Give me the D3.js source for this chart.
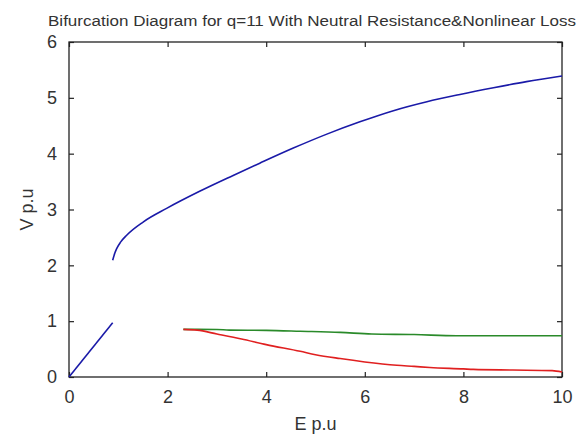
<!DOCTYPE html>
<html><head><meta charset="utf-8">
<script src="https://cdn.jsdelivr.net/npm/d3@7"></script>
<style>body{margin:0;background:#fff}svg{display:block}</style>
</head><body>
<script>
// Data
const upperE = [0.886, 0.93, 0.967, 1.05, 1.17, 1.51, 1.98, 2.66, 3.33, 3.87, 4.55, 5.23, 5.90, 6.58, 7.26, 7.93, 8.61, 9.28, 10.0];
const upperV = [2.09, 2.22, 2.30, 2.42, 2.54, 2.78, 3.02, 3.33, 3.61, 3.83, 4.10, 4.35, 4.57, 4.77, 4.93, 5.06, 5.18, 5.29, 5.39];
const lowerE = [0, 0.886];
const lowerV = [0, 0.97];
const greenE = [2.32, 3.0, 3.25, 4.0, 4.69, 5.5, 6.14, 7.0, 7.86, 9.0, 10.0];
const greenV = [0.853, 0.85, 0.84, 0.835, 0.82, 0.8, 0.77, 0.76, 0.74, 0.74, 0.74];
const redE = [2.32, 2.6, 3.0, 3.5, 4.0, 4.69, 5.0, 5.5, 6.0, 6.65, 7.0, 7.32, 8.0, 8.2, 9.0, 9.8, 10.0];
const redV = [0.853, 0.84, 0.77, 0.68, 0.58, 0.46, 0.4, 0.33, 0.27, 0.21, 0.19, 0.17, 0.145, 0.136, 0.125, 0.115, 0.09];
const xTicks = [0, 2, 4, 6, 8, 10];
const yTicks = [0, 1, 2, 3, 4, 5, 6];
const title = "Bifurcation Diagram for q=11 With Neutral Resistance&Nonlinear Loss";
const xLabel = "E p.u";
const yLabel = "V p.u";

const W = 586, H = 435;
const m = {left: 69, right: 24, top: 42, bottom: 58};
const svg = d3.select("body").append("svg").attr("width", W).attr("height", H);
const x = d3.scaleLinear().domain([0, 10]).range([m.left, W - m.right]);
const y = d3.scaleLinear().domain([0, 6]).range([H - m.bottom, m.top]);
const font = "Liberation Sans, Arial, sans-serif";
const axCol = "#222";

// box
svg.append("rect").attr("x", x(0)).attr("y", y(6)).attr("width", x(10) - x(0)).attr("height", y(0) - y(6))
  .attr("fill", "none").attr("stroke", axCol).attr("stroke-width", 1.3);

function styleAxis(g) {
  g.select(".domain").remove();
  g.selectAll(".tick line").attr("stroke", axCol).attr("stroke-width", 1.2);
  g.selectAll(".tick text").attr("font-family", font).attr("font-size", 18).attr("fill", "#333");
}
svg.append("g").attr("transform", `translate(0,${y(0)})`)
  .call(d3.axisBottom(x).tickValues(xTicks).tickSizeInner(-5).tickSizeOuter(0).tickPadding(13).tickFormat(d3.format("d")))
  .call(styleAxis);
svg.append("g").attr("transform", `translate(0,${y(6)})`)
  .call(d3.axisTop(x).tickValues(xTicks).tickSizeInner(-5).tickSizeOuter(0).tickFormat(""))
  .call(styleAxis);
svg.append("g").attr("transform", `translate(${x(0)},0)`)
  .call(d3.axisLeft(y).tickValues(yTicks).tickSizeInner(-5).tickSizeOuter(0).tickPadding(12).tickFormat(d3.format("d")))
  .call(styleAxis);
svg.append("g").attr("transform", `translate(${x(10)},0)`)
  .call(d3.axisRight(y).tickValues(yTicks).tickSizeInner(-5).tickSizeOuter(0).tickFormat(""))
  .call(styleAxis);

const line = d3.line().x(d => x(d[0])).y(d => y(d[1])).curve(d3.curveMonotoneX);
function draw(E, V, color) {
  svg.append("path").datum(E.map((e, i) => [e, V[i]]))
    .attr("d", line).attr("fill", "none").attr("stroke", color).attr("stroke-width", 1.6);
}
draw(lowerE, lowerV, "#1a1aa8");
draw(upperE, upperV, "#1a1aa8");
draw(greenE, greenV, "#2a8a2a");
draw(redE, redV, "#e02020");

svg.append("text").attr("x", 312).attr("y", 26).attr("text-anchor", "middle")
  .attr("textLength", 528).attr("lengthAdjust", "spacingAndGlyphs")
  .attr("font-family", font).attr("font-size", 15.5).attr("fill", "#333").text(title);
svg.append("text").attr("x", (x(0) + x(10)) / 2).attr("y", 430).attr("text-anchor", "middle")
  .attr("font-family", font).attr("font-size", 18).attr("fill", "#333").text(xLabel);
svg.append("text").attr("transform", `translate(33,${(y(0) + y(6)) / 2}) rotate(-90)`).attr("text-anchor", "middle")
  .attr("font-family", font).attr("font-size", 18).attr("fill", "#333").text(yLabel);
</script>
</body></html>
